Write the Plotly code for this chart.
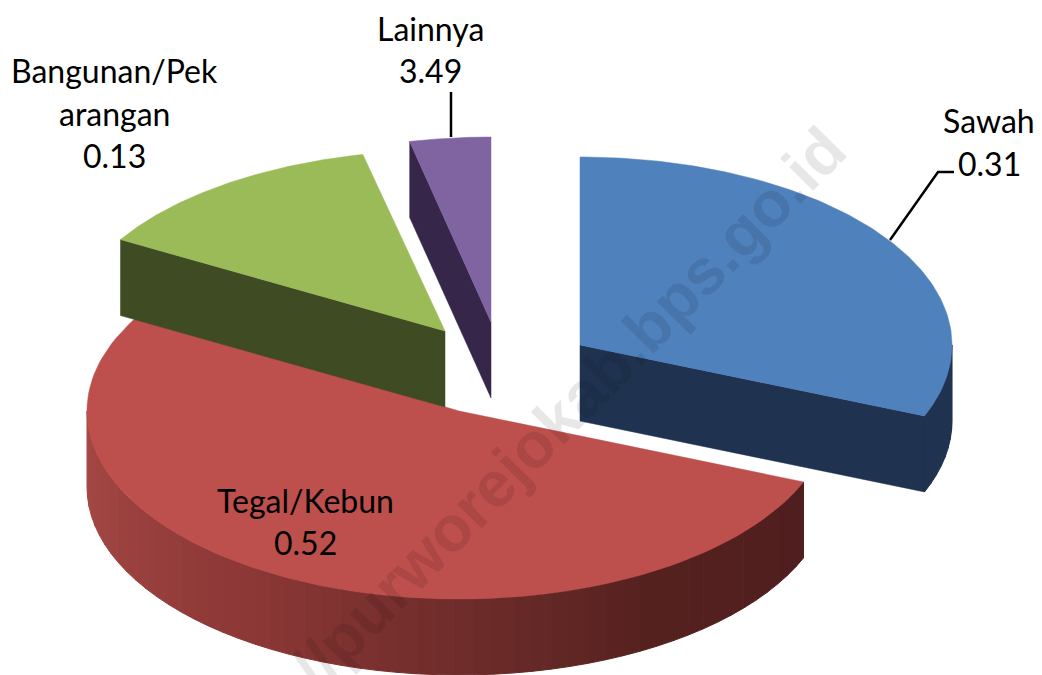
import numpy as np
import plotly.graph_objects as go

# Data
categories = ["Sawah", "Tegal/Kebun", "Bangunan/Pekarangan", "Lainnya"]
label_lines = [["Sawah", "0.31"], ["Tegal/Kebun", "0.52"], ["Bangunan/Pek", "arangan", "0.13"], ["Lainnya", "3.49"]]
shares = [0.31, 0.52, 0.13, 0.0349]

# Styling / projection of the tilted, exploded pie
top_colors = ["#4f81bd", "#bd4f4c", "#9bbb59", "#8064a2"]
face_colors = ["#1f3350", "#5a2422", "#3f4b22", "#35264a"]
wall_stops = {1: [(112, "#4f1e1e"), (150, "#562220"), (180, "#6f2d2b"), (215, "#8d3937"), (270, "#a84a47")]}
centers = [(580, 345), (459, 411), (445, 331), (491, 322)]
ry_list = [188, 188, 181, 185]
rx_list = [372, 372, 376, 372]
DEPTH = 76
label_pos = [(989, [120, 163]), (305, [500, 542]), (114, [70, 113, 155]), (430, [28, 70])]
leaders = [([890, 938, 954], [240, 172, 172]), ([451, 451], [137, 92])]

fracs = np.array(shares) / sum(shares)
edges = np.concatenate([[0], np.cumsum(fracs) * 360])


def project(i, a, drop=0):
    r = np.radians(a)
    cx, cy = centers[i]
    return cx + rx_list[i] * np.sin(r), cy - ry_list[i] * np.cos(r) + drop


def hex_rgb(c):
    return np.array([int(c[j:j + 2], 16) for j in (1, 3, 5)], float)


def wall_color(i, a):
    if i not in wall_stops:
        return face_colors[i]
    st = wall_stops[i]
    angs = [s[0] for s in st]
    rgb = [np.interp(a, angs, [hex_rgb(s[1])[k] for s in st]) for k in range(3)]
    return "rgb(%d,%d,%d)" % tuple(rgb)


fig = go.Figure()


def poly(xs, ys, color, seam=False):
    fig.add_trace(go.Scatter(x=list(xs) + [xs[0]], y=list(ys) + [ys[0]], mode="lines", fill="toself",
                             fillcolor=color, line=dict(color=color, width=1 if seam else 0.5),
                             hoverinfo="skip", showlegend=False))


for i in [1, 2, 0, 3]:
    a0, a1 = edges[i], edges[i + 1]
    # radial cut faces that look towards the viewer
    cx, cy = centers[i]
    for a, visible in ((a0, np.sin(np.radians(a0)) < -1e-6), (a1, np.sin(np.radians(a1)) > 1e-6)):
        if visible:
            x, y = project(i, a)
            poly([cx, x, x, cx], [cy, y, y + DEPTH, cy + DEPTH], face_colors[i])
    # outer wall on the near half of the rim
    lo, hi = max(a0, 90), min(a1, 270)
    if hi > lo:
        steps = np.linspace(lo, hi, int((hi - lo) / 3) + 2)
        for s, e in zip(steps[:-1], steps[1:]):
            seg = np.linspace(s, e, 3)
            x, y = project(i, seg)
            xs = list(x) + list(x[::-1])
            ys = list(y) + list((y + DEPTH)[::-1])
            poly(xs, ys, wall_color(i, (s + e) / 2), seam=True)
    # top surface
    arc = np.linspace(a0, a1, 120)
    x, y = project(i, arc)
    poly([cx] + list(x), [cy] + list(y), top_colors[i])

for lx, ly in leaders:
    fig.add_trace(go.Scatter(x=lx, y=ly, mode="lines", line=dict(color="black", width=2.5),
                             hoverinfo="skip", showlegend=False))

annotations = []
for lines, (lx, ys) in zip(label_lines, label_pos):
    for t, ly in zip(lines, ys):
        annotations.append(dict(x=lx, y=ly, xref="x", yref="y", text=t, showarrow=False,
                                font=dict(family="Lato", size=32, color="black")))
annotations.append(dict(x=506, y=472, xref="x", yref="y", text="<b>https://purworejokab.bps.go.id</b>",
                        showarrow=False, textangle=-45.5,
                        font=dict(family="Liberation Sans", size=64, color="rgba(0,0,0,0.095)")))

fig.update_layout(width=1042, height=675, margin=dict(l=0, r=0, t=0, b=0),
                  paper_bgcolor="white", plot_bgcolor="white", annotations=annotations,
                  xaxis=dict(range=[0, 1042], visible=False, fixedrange=True),
                  yaxis=dict(range=[675, 0], visible=False, fixedrange=True))
fig.write_html("out.html", config={"displayModeBar": False},
               post_script="document.body.style.margin='0';document.body.style.overflow='hidden';")
